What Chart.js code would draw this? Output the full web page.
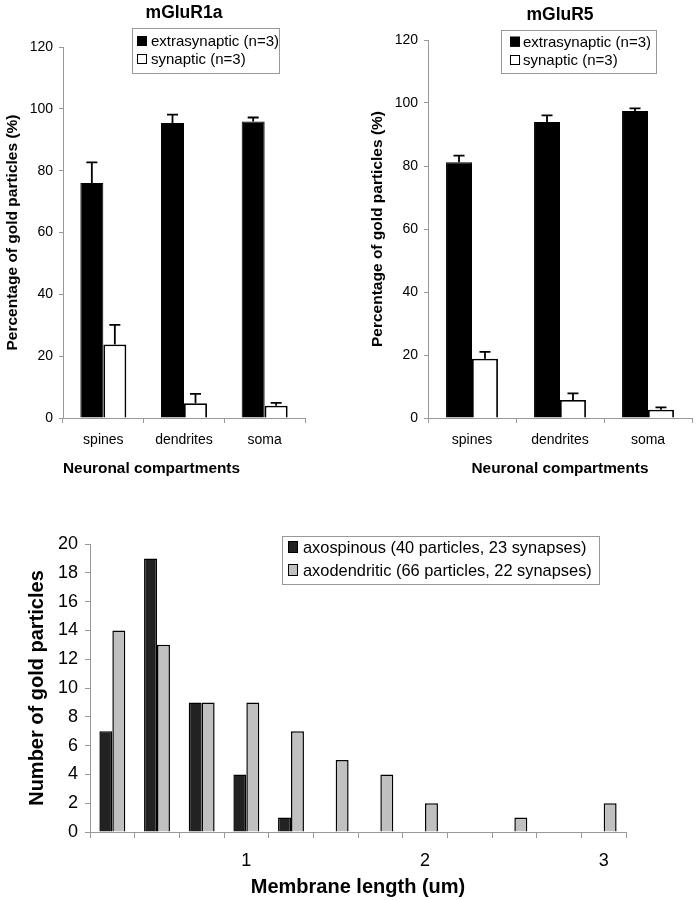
<!DOCTYPE html>
<html><head><meta charset="utf-8">
<script src="https://cdn.jsdelivr.net/npm/chart.js@4/dist/chart.umd.min.js"></script>
<style>
html,body{margin:0;padding:0;background:#fff;}
body{width:700px;height:900px;position:relative;overflow:hidden;}
.box{position:absolute;}
</style></head><body>
<div class="box" style="left:0;top:0;width:350px;height:480px"><canvas id="c1"></canvas></div>
<div class="box" style="left:350px;top:0;width:350px;height:480px"><canvas id="c2"></canvas></div>
<div class="box" style="left:0;top:490px;width:700px;height:410px"><canvas id="c3"></canvas></div>
<script>
// ---- data ----
const compartments = ['spines', 'dendrites', 'soma'];
const r1Extra = [76.0, 95.4, 95.9];
const r1ExtraErr = [6.7, 2.7, 1.3];
const r1Syn = [23.8, 4.8, 4.0];
const r1SynErr = [6.3, 3.0, 0.9];
const r5Extra = [81.2, 94.0, 97.5];
const r5ExtraErr = [2.1, 2.1, 0.8];
const r5Syn = [18.8, 5.7, 2.6];
const r5SynErr = [2.2, 2.1, 0.8];
const lengthBins = ['', '', '', '1', '', '', '', '2', '', '', '', '3'];
const axospinous = [7, 19, 9, 4, 1, 0, 0, 0, 0, 0, 0, 0];
const axodendritic = [14, 13, 9, 9, 7, 5, 4, 2, 0, 1, 0, 2];

const FAM = '"Liberation Sans", Arial, Helvetica, sans-serif';

const errorBars = {
  id: 'errorBars',
  afterDatasetsDraw(chart) {
    const ctx = chart.ctx, ys = chart.scales.y;
    ctx.save();
    ctx.strokeStyle = '#000';
    ctx.lineWidth = 1.8;
    chart.data.datasets.forEach((ds, i) => {
      if (!ds.errors) return;
      const meta = chart.getDatasetMeta(i);
      meta.data.forEach((el, j) => {
        const v = ds.data[j], e = ds.errors[j];
        const yb = ys.getPixelForValue(v), yt = ys.getPixelForValue(v + e);
        ctx.beginPath();
        ctx.moveTo(el.x, yb); ctx.lineTo(el.x, yt);
        ctx.moveTo(el.x - 5.5, yt); ctx.lineTo(el.x + 5.5, yt);
        ctx.stroke();
      });
    });
    ctx.restore();
  }
};

const boxLegend = {
  id: 'boxLegend',
  afterDraw(chart, args, o) {
    if (!o || !o.box) return;
    const ctx = chart.ctx;
    const [bx, by, bw, bh] = o.box;
    ctx.save();
    ctx.fillStyle = '#fff';
    ctx.fillRect(bx, by, bw, bh);
    ctx.strokeStyle = '#999';
    ctx.lineWidth = 1;
    ctx.strokeRect(bx + 0.5, by + 0.5, bw, bh);
    ctx.font = o.fontSize + 'px ' + FAM;
    ctx.textBaseline = 'middle';
    ctx.textAlign = 'left';
    chart.data.datasets.forEach((ds, i) => {
      const y = o.rowY[i];
      ctx.fillStyle = ds.backgroundColor;
      ctx.fillRect(o.markerX, y - o.markerH / 2, o.markerW, o.markerH);
      ctx.strokeStyle = '#000';
      ctx.lineWidth = 1;
      ctx.strokeRect(o.markerX + 0.5, y - o.markerH / 2 + 0.5, o.markerW - 1, o.markerH - 1);
      ctx.fillStyle = '#000';
      ctx.fillText(ds.label, o.textX, y + 1);
    });
    ctx.restore();
  }
};

function topChart(id, extra, extraErr, syn, synErr, cfg) {
  return new Chart(document.getElementById(id), {
    type: 'bar',
    data: {
      labels: compartments,
      datasets: [
        { label: 'extrasynaptic (n=3)', data: extra, errors: extraErr, backgroundColor: '#000', borderColor: '#000', borderWidth: 1 },
        { label: 'synaptic (n=3)', data: syn, errors: synErr, backgroundColor: '#fff', borderColor: '#000', borderWidth: 1.8 }
      ]
    },
    options: {
      responsive: true, maintainAspectRatio: false, animation: false,
      layout: { padding: { left: 0, right: cfg.padRight, top: 0, bottom: 0 } },
      datasets: { bar: { categoryPercentage: cfg.cat, barPercentage: 1, borderSkipped: 'start' } },
      plugins: {
        legend: { display: false }, tooltip: { enabled: false },
        title: { display: true, fullSize: false, text: cfg.title, color: '#000', font: { family: FAM, size: 17.5, weight: 'bold' }, padding: { top: cfg.titleTop, bottom: cfg.titleBottom } },
        boxLegend: cfg.legend
      },
      scales: {
        x: {
          grid: { drawOnChartArea: false, color: '#999', tickLength: 5, offset: true },
          border: { color: '#999' },
          ticks: { color: '#000', font: { family: FAM, size: 14 }, padding: 9 },
          title: { display: true, text: 'Neuronal compartments', align: cfg.xAlign, color: '#000', font: { family: FAM, size: 15.4, weight: 'bold' }, padding: { top: 0, bottom: 1.8 } },
          afterFit: s => { s.height = 62; }
        },
        y: {
          min: 0, max: 120,
          ticks: { stepSize: 20, color: '#000', font: { family: FAM, size: 14 }, padding: 6 },
          grid: { drawOnChartArea: false, color: '#999', tickLength: 4 },
          border: { color: '#999' },
          title: { display: true, text: 'Percentage of gold particles (%)', color: '#000', font: { family: FAM, size: 15.5, weight: 'bold' }, padding: { top: cfg.yTitlePad, bottom: 0 } },
          afterFit: s => { s.width = cfg.yWidth; }
        }
      }
    },
    plugins: [errorBars, boxLegend]
  });
}

topChart('c1', r1Extra, r1ExtraErr, r1Syn, r1SynErr, {
  title: 'mGluR1a', titleTop: 3.1, titleBottom: 22.9, padRight: 45, yWidth: 63, yTitlePad: 3.7,
  cat: 0.57, xAlign: 'start',
  legend: { box: [132, 28, 147, 45], rowY: [41, 59], markerX: 137, markerW: 10, markerH: 10, textX: 151, fontSize: 15 }
});
topChart('c2', r5Extra, r5ExtraErr, r5Syn, r5SynErr, {
  title: 'mGluR5', titleTop: 4.5, titleBottom: 14.5, padRight: 8, yWidth: 78, yTitlePad: 18.7,
  cat: 0.59, xAlign: 'center',
  legend: { box: [151, 30, 155, 43], rowY: [41.7, 60], markerX: 160, markerW: 10, markerH: 10, textX: 173, fontSize: 15 }
});

new Chart(document.getElementById('c3'), {
  type: 'bar',
  data: {
    labels: lengthBins,
    datasets: [
      { label: 'axospinous (40 particles, 23 synapses)', data: axospinous, backgroundColor: '#222222', borderColor: '#000', borderWidth: c => (c.raw ? 1.5 : 0) },
      { label: 'axodendritic (66 particles, 22 synapses)', data: axodendritic, backgroundColor: '#c0c0c0', borderColor: '#000', borderWidth: c => (c.raw ? 1.5 : 0) }
    ]
  },
  options: {
    responsive: true, maintainAspectRatio: false, animation: false,
    layout: { padding: { left: 0, right: 74, top: 54, bottom: 0 } },
    datasets: { bar: { categoryPercentage: 0.58, barPercentage: 1, borderSkipped: 'start' } },
    plugins: {
      legend: { display: false }, tooltip: { enabled: false },
      boxLegend: { box: [282, 46, 317, 48], rowY: [57, 80], markerX: 288, markerW: 10, markerH: 12, textX: 303, fontSize: 16.4 }
    },
    scales: {
      x: {
        grid: { drawOnChartArea: false, color: '#999', tickLength: 6, offset: true },
        border: { color: '#999' },
        ticks: { autoSkip: false, maxRotation: 0, color: '#000', font: { family: FAM, size: 18 }, padding: 12 },
        title: { display: true, text: 'Membrane length (um)', color: '#000', font: { family: FAM, size: 20, weight: 'bold' }, padding: { top: 0, bottom: 1 } },
        afterFit: s => { s.height = 68; }
      },
      y: {
        min: 0, max: 20,
        ticks: { stepSize: 2, color: '#000', font: { family: FAM, size: 18 }, padding: 7 },
        grid: { drawOnChartArea: false, color: '#999', tickLength: 5 },
        border: { color: '#999' },
        title: { display: true, text: 'Number of gold particles', color: '#000', font: { family: FAM, size: 20, weight: 'bold' }, padding: { top: 25, bottom: 0 } },
        afterFit: s => { s.width = 90; }
      }
    }
  },
  plugins: [boxLegend]
});
</script>
</body></html>
